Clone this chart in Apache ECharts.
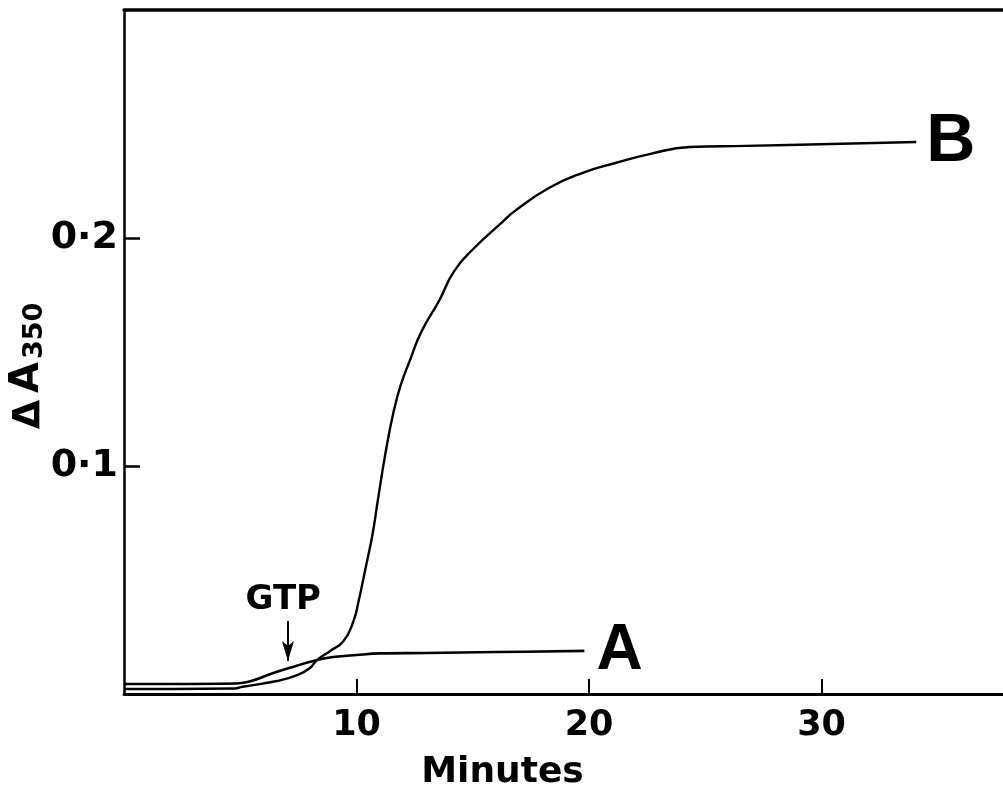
<!DOCTYPE html>
<html>
<head>
<meta charset="utf-8">
<script src="https://cdn.jsdelivr.net/npm/echarts@6/dist/echarts.min.js"></script>
<style>
  html, body { margin: 0; padding: 0; background: #fff; }
  #chart { width: 1003px; height: 798px; }
</style>
</head>
<body>
<div id="chart"></div>
<script>
// Turbidity change (ΔA350) over time, traces A and B
const timeA = [0, 2, 4.8, 5.5, 6.3, 7.1, 8.3, 9.0, 10.0, 11.0, 13.0, 16.0, 19.8];
const valueA = [0.0044, 0.0044, 0.0046, 0.0058, 0.0088, 0.0114, 0.0149, 0.0162, 0.0171, 0.0178, 0.0180, 0.0184, 0.0189];

const timeB = [0, 2, 4.76, 5.1, 6.58, 7.45, 8.0, 8.3, 8.87, 9.44, 9.87, 10.09, 10.39, 10.69, 10.91, 11.26, 11.6, 11.9, 12.34, 12.77, 13.55, 14.2, 15.06, 16.23, 16.8, 18.27, 19.7, 21.13, 22.6, 24.33, 26.75, 30.4, 34.07];
const valueB = [0.0022, 0.0022, 0.0024, 0.0032, 0.0057, 0.0083, 0.0114, 0.0149, 0.0189, 0.0232, 0.032, 0.0408, 0.0553, 0.0702, 0.0846, 0.1066, 0.1241, 0.1355, 0.1475, 0.1585, 0.1725, 0.1855, 0.1956, 0.2066, 0.2118, 0.2219, 0.2285, 0.2329, 0.2368, 0.2399, 0.2404, 0.2412, 0.2421];

const xTicks = [10, 20, 30];
const xTickLabels = ['10', '20', '30'];
const yTicks = [0.1, 0.2];
const yTickLabels = ['0·1', '0·2'];

// GTP addition marker: time, arrow start/end levels, label level
const gtpTime = 7.05;
const gtpArrowFrom = 0.032;
const gtpArrowTo = 0.0145;
const gtpLabelY = 0.041;

const pairs = (xs, ys) => xs.map((x, i) => [x, ys[i]]);
const labelFor = (ticks, labels) => v => {
  const i = ticks.findIndex(t => Math.abs(t - v) < 1e-9);
  return i >= 0 ? labels[i] : '';
};

const FONT = '"DejaVu Sans", "Liberation Sans", Arial, sans-serif';
const FONT_L = '"Liberation Sans", Arial, sans-serif';
const chart = echarts.init(document.getElementById('chart'), null, { renderer: 'canvas' });

chart.setOption({
  backgroundColor: '#ffffff',
  animation: false,
  grid: { left: 124, right: 0, top: 10, bottom: 104, outerBoundsMode: 'none', containLabel: false },
  xAxis: [{
    type: 'value', min: 0, max: 37.8, interval: 10,
    axisLine: { show: true, lineStyle: { color: '#000', width: 3 } },
    axisTick: { show: true, inside: true, length: 15, customValues: xTicks, lineStyle: { color: '#000', width: 2 } },
    axisLabel: { customValues: xTicks, formatter: labelFor(xTicks, xTickLabels), margin: 14,
      color: '#000', fontSize: 35, fontWeight: 'bold', fontFamily: FONT },
    splitLine: { show: false },
    name: 'Minutes', nameLocation: 'middle', nameGap: 61,
    nameTextStyle: { color: '#000', fontSize: 36, fontWeight: 'bold', fontFamily: FONT, padding: [0, 122, 0, 0] }
  }, {
    type: 'value', position: 'top', min: 0, max: 37.8,
    axisLine: { show: true, lineStyle: { color: '#000', width: 3.5 } },
    axisTick: { show: false }, axisLabel: { show: false }, splitLine: { show: false }
  }],
  yAxis: {
    type: 'value', min: 0, max: 0.3, interval: 0.1,
    axisLine: { show: true, lineStyle: { color: '#000', width: 2.5 } },
    axisTick: { show: true, inside: true, length: 16, customValues: yTicks, lineStyle: { color: '#000', width: 2.5 } },
    axisLabel: { customValues: yTicks, formatter: labelFor(yTicks, yTickLabels), margin: 6,
      color: '#000', fontSize: 38, fontWeight: 'bold', fontFamily: FONT },
    splitLine: { show: false },
    name: '{d|Δ}{a|A}{s|350}', nameLocation: 'middle', nameRotate: 90, nameGap: 76,
    nameMoveOverlap: false,
    nameTextStyle: {
      padding: [0, 28, 0, 0],
      rich: {
        d: { fontSize: 38, fontWeight: 'bold', fontFamily: FONT, color: '#000', lineHeight: 46, verticalAlign: 'bottom', padding: [0, 7, 0, 0] },
        a: { fontSize: 40, fontWeight: 'bold', fontFamily: FONT, color: '#000', lineHeight: 46, verticalAlign: 'bottom' },
        s: { fontSize: 27, fontWeight: 'bold', fontFamily: FONT, color: '#000', lineHeight: 46, verticalAlign: 'bottom', padding: [16, 0, 0, 3] }
      }
    }
  },
  series: [{
    name: 'A', type: 'line', data: pairs(timeA, valueA), smooth: 0.4,
    showSymbol: false, lineStyle: { color: '#000', width: 2.6 },
    endLabel: { show: true, formatter: 'A', distance: 12, color: '#000',
      fontSize: 64, fontWeight: 'bold', fontFamily: FONT_L },
    markLine: {
      silent: true, symbol: ['none', 'arrow'], symbolSize: [9, 20],
      label: { show: false },
      lineStyle: { color: '#000', width: 2, type: 'solid' },
      data: [[{ coord: [gtpTime, gtpArrowFrom] }, { coord: [gtpTime, gtpArrowTo] }]]
    },
    markPoint: {
      silent: true, symbol: 'circle', symbolSize: 0,
      label: { show: true, position: 'inside', formatter: 'GTP', color: '#000',
        fontSize: 34, fontWeight: 'bold', fontFamily: FONT },
      data: [{ coord: [gtpTime - 0.2, gtpLabelY] }]
    }
  }, {
    name: 'B', type: 'line', data: pairs(timeB, valueB), smooth: 0.5,
    showSymbol: false, lineStyle: { color: '#000', width: 2.4 },
    endLabel: { show: true, formatter: 'B', distance: 10, color: '#000',
      fontSize: 68, fontWeight: 'bold', fontFamily: FONT_L, padding: [4, 0, 0, 0] }
  }]
});
</script>
</body>
</html>
